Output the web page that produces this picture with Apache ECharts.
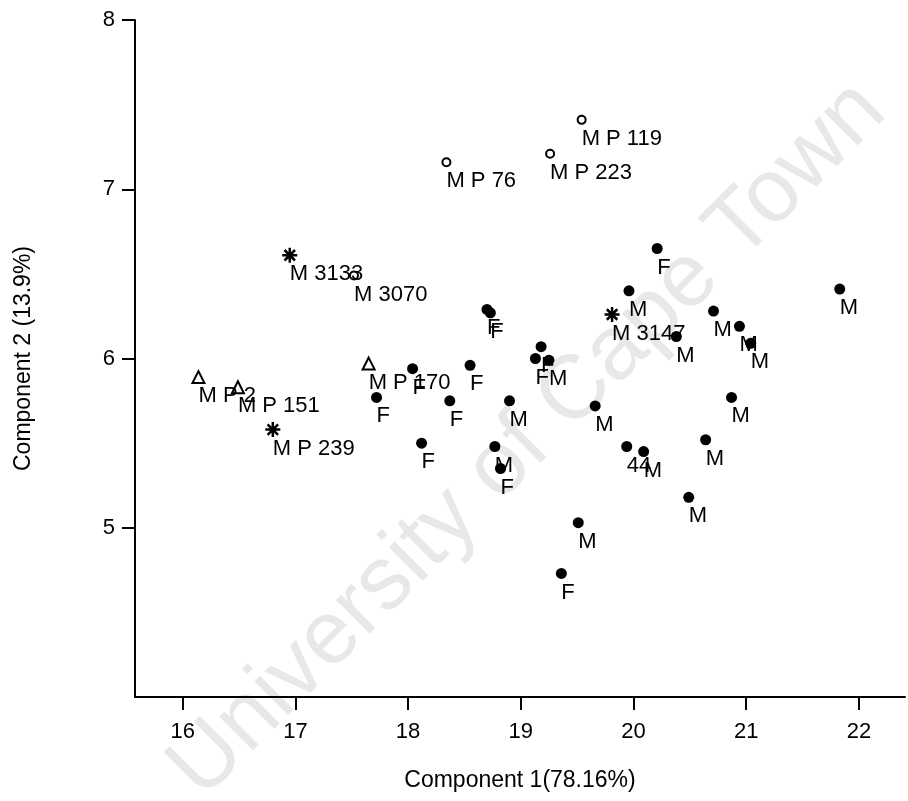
<!DOCTYPE html>
<html>
<head>
<meta charset="utf-8">
<title>Component 1 vs Component 2</title>
<script src="https://cdn.jsdelivr.net/npm/echarts@6/dist/echarts.min.js"></script>
<style>
  html, body { margin: 0; padding: 0; background: #fff; }
  #chart { width: 908px; height: 801px; }
</style>
</head>
<body>
<div id="chart"></div>
<script>
// Solid dots: sex-coded specimens
const dotLabels = ['F', 'F', 'F', 'F', 'F', 'F', 'F', 'F', 'F', 'M', 'M', 'M', 'F', 'M', '44', 'M', 'F', 'M', 'M', 'M', 'M', 'M', 'M', 'M', 'M', 'M', 'M', 'F'];
const dotX = [18.04, 18.55, 17.72, 18.37, 18.12, 18.70, 18.73, 19.18, 19.13, 19.25, 18.90, 18.77, 18.82, 19.66, 19.94, 20.09, 20.21, 19.96, 20.38, 20.71, 20.94, 21.04, 21.83, 20.87, 20.64, 20.49, 19.51, 19.36];
const dotY = [5.94, 5.96, 5.77, 5.75, 5.50, 6.29, 6.27, 6.07, 6.00, 5.99, 5.75, 5.48, 5.35, 5.72, 5.48, 5.45, 6.65, 6.40, 6.13, 6.28, 6.19, 6.09, 6.41, 5.77, 5.52, 5.18, 5.03, 4.73];

// Open circles
const ringLabels = ['M P 119', 'M P 223', 'M P 76', 'M 3070'];
const ringX = [19.54, 19.26, 18.34, 17.52];
const ringY = [7.41, 7.21, 7.16, 6.49];

// Asterisks
const starLabels = ['M 3133', 'M P 239', 'M 3147'];
const starX = [16.95, 16.80, 19.81];
const starY = [6.61, 5.58, 6.26];

// Open triangles
const triLabels = ['M P 2', 'M P 151', 'M P 170'];
const triX = [16.14, 16.49, 17.65];
const triY = [5.89, 5.83, 5.97];

// Axis ticks
const xTicks = [16, 17, 18, 19, 20, 21, 22];
const yTicks = [5, 6, 7, 8];

const FONT = "'Liberation Sans', Arial, Helvetica, sans-serif";

function points(xs, ys, names) {
  return xs.map((x, i) => ({ value: [x, ys[i]], name: names[i] }));
}

const pointLabel = {
  show: true,
  formatter: '{b}',
  position: 'inside',
  align: 'left',
  verticalAlign: 'top',
  offset: [0, 8],
  color: '#000',
  fontSize: 22,
  fontFamily: FONT
};

const starPath = 'path://M6,0L6,12M0,6L12,6M1.8,1.8L10.2,10.2M1.8,10.2L10.2,1.8';

const chart = echarts.init(document.getElementById('chart'), null, { renderer: 'canvas' });

chart.setOption({
  animation: false,
  backgroundColor: '#fff',
  grid: { left: 135, top: 20, right: 3, bottom: 104, containLabel: false },
  graphic: [{
    type: 'text',
    x: 528,
    y: 440,
    rotation: Math.PI / 4,
    z: -10,
    silent: true,
    style: {
      text: 'University of Cape Town',
      fill: '#e8e8e8',
      font: '90px ' + FONT,
      align: 'center',
      verticalAlign: 'middle'
    }
  }],
  xAxis: {
    type: 'value',
    min: 15.577,
    max: 22.409,
    name: 'Component 1(78.16%)',
    nameLocation: 'middle',
    nameGap: 72,
    nameTextStyle: { color: '#000', fontSize: 23, fontFamily: FONT },
    axisLine: { show: true, onZero: false, lineStyle: { color: '#000', width: 2 } },
    axisTick: { show: true, length: 13, customValues: xTicks, lineStyle: { color: '#000', width: 2 } },
    axisLabel: { customValues: xTicks, margin: 24, color: '#000', fontSize: 22, fontFamily: FONT },
    splitLine: { show: false }
  },
  yAxis: {
    type: 'value',
    min: 4,
    max: 8,
    interval: 1,
    name: 'Component 2 (13.9%)',
    nameLocation: 'middle',
    nameGap: 100,
    nameTextStyle: { color: '#000', fontSize: 23, fontFamily: FONT },
    axisLine: { show: true, onZero: false, lineStyle: { color: '#000', width: 2 } },
    axisTick: { show: true, length: 13, customValues: yTicks, lineStyle: { color: '#000', width: 2 } },
    axisLabel: { customValues: yTicks, margin: 20, color: '#000', fontSize: 22, fontFamily: FONT },
    splitLine: { show: false }
  },
  series: [
    {
      type: 'scatter',
      name: 'dots',
      symbol: 'circle',
      symbolSize: 11,
      itemStyle: { color: '#000', opacity: 1 },
      label: pointLabel,
      data: points(dotX, dotY, dotLabels)
    },
    {
      type: 'scatter',
      name: 'rings',
      symbol: 'circle',
      symbolSize: 8,
      itemStyle: { color: '#fff', borderColor: '#000', borderWidth: 2, opacity: 1 },
      label: pointLabel,
      data: points(ringX, ringY, ringLabels)
    },
    {
      type: 'scatter',
      name: 'stars',
      symbol: starPath,
      symbolSize: 15,
      itemStyle: { color: 'rgba(0,0,0,0)', borderColor: '#000', borderWidth: 2.5, opacity: 1 },
      label: pointLabel,
      data: points(starX, starY, starLabels)
    },
    {
      type: 'scatter',
      name: 'triangles',
      symbol: 'triangle',
      symbolSize: [12, 12],
      itemStyle: { color: '#fff', borderColor: '#000', borderWidth: 2, opacity: 1 },
      label: pointLabel,
      data: points(triX, triY, triLabels)
    }
  ]
});
</script>
</body>
</html>
